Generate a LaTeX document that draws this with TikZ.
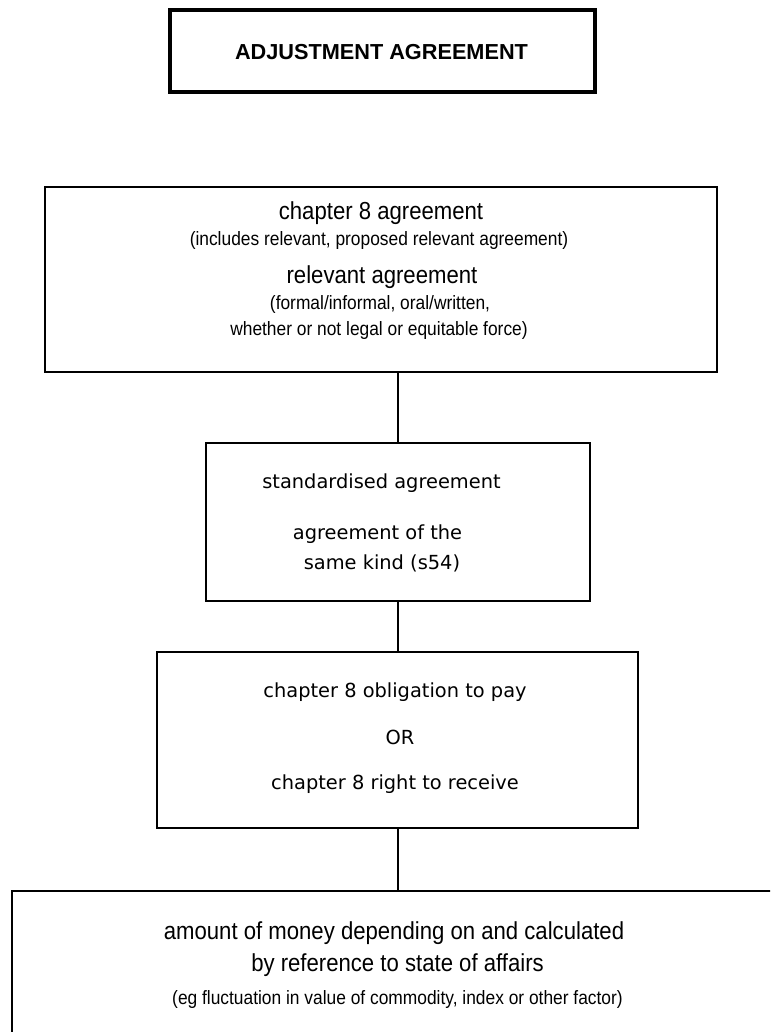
\documentclass[tikz,border=0pt]{standalone}
\usepackage{fontspec}
\setmainfont{Liberation Sans}
\newfontfamily\narrowfont[FakeStretch=0.9]{Liberation Sans}
\newfontfamily\vfont{DejaVu Sans}
\begin{document}
\begin{tikzpicture}[x=1pt,y=-1pt,
  frame/.style={draw=black, line width=2.3pt, rectangle, inner sep=0pt},
  titleframe/.style={draw=black, line width=3.6pt, rectangle, inner sep=0pt},
  conn/.style={draw=black, line width=2.3pt},
  bigtxt/.style={font=\narrowfont\fontsize{24.6}{28}\selectfont, inner sep=0pt},
  smalltxt/.style={font=\narrowfont\fontsize{19.3}{23}\selectfont, inner sep=0pt},
  vtxt/.style={font=\vfont\fontsize{19.4}{23}\selectfont, inner sep=0pt},
  ttl/.style={font=\bfseries\fontsize{21.7}{26}\selectfont, inner sep=0pt}]
\useasboundingbox (0,0) rectangle (770,1032);
\clip (0,0) rectangle (770,1032);
\fill[white] (0,0) rectangle (770,1032);
% title
\node[titleframe, minimum width=425pt, minimum height=82pt] (title) at (382.5,51) {};
\node[ttl] (titletxt) at (381.5,52) {ADJUSTMENT AGREEMENT};
% box 2
\node[frame, minimum width=672pt, minimum height=185pt] (b2) at (381,279.5) {};
\node[bigtxt] (t21) at (381,213) {chapter 8 agreement};
\node[smalltxt] (t22) at (379,241) {(includes relevant, proposed relevant agreement)};
\node[bigtxt] (t23) at (382,277) {relevant agreement};
\node[smalltxt] (t24) at (380,305) {(formal/informal, oral/written,};
\node[smalltxt] (t25) at (379,331) {whether or not legal or equitable force)};
% box 3
\node[frame, minimum width=384pt, minimum height=158pt] (b3) at (398,522) {};
\node[vtxt] (t31) at (381.5,483) {standardised agreement};
\node[vtxt] (t32) at (377.5,534) {agreement of the};
\node[vtxt] (t33) at (382,563) {same kind (s54)};
% box 4
\node[frame, minimum width=481pt, minimum height=176pt] (b4) at (397.5,740) {};
\node[vtxt] (t41) at (395,692) {chapter 8 obligation to pay};
\node[vtxt] (t42) at (400,737) {OR};
\node[vtxt] (t43) at (395,784) {chapter 8 right to receive};
% box 5
\node[frame, minimum width=788pt, minimum height=179pt] (b5) at (406,980.5) {};
\node[bigtxt] (t51) at (394,933) {amount of money depending on and calculated};
\node[bigtxt] (t52) at (397.5,965) {by reference to state of affairs};
\node[smalltxt] (t53) at (397.5,999) {(eg fluctuation in value of commodity, index or other factor)};
% connectors
\coordinate (cx) at (398,0);
\draw[conn] (b2.south -| cx) -- (b3.north -| cx);
\draw[conn] (b3.south -| cx) -- (b4.north -| cx);
\draw[conn] (b4.south -| cx) -- (b5.north -| cx);
\end{tikzpicture}
\end{document}
